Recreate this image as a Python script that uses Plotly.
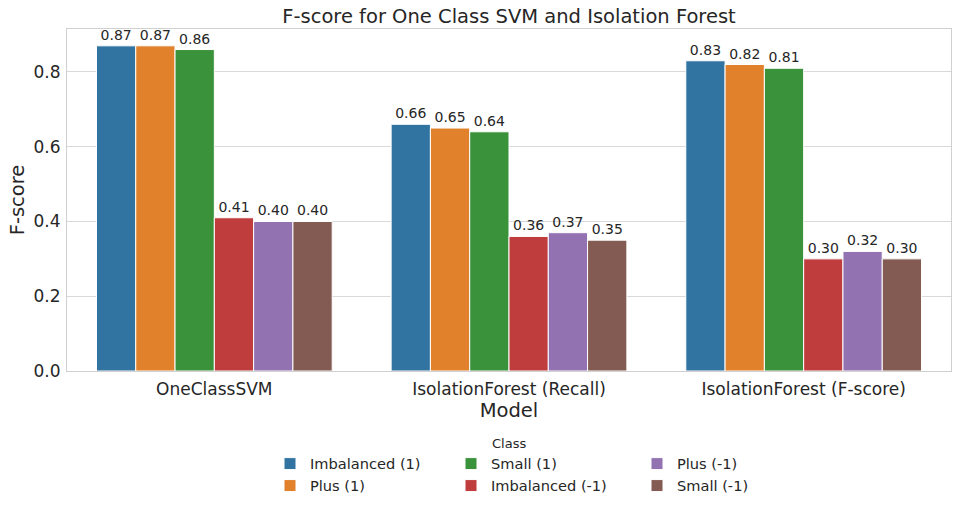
import plotly.graph_objects as go

models = ["OneClassSVM", "IsolationForest (Recall)", "IsolationForest (F-score)"]
classes = ["Imbalanced (1)", "Plus (1)", "Small (1)", "Imbalanced (-1)", "Plus (-1)", "Small (-1)"]
values = {
    "Imbalanced (1)": [0.87, 0.66, 0.83],
    "Plus (1)": [0.87, 0.65, 0.82],
    "Small (1)": [0.86, 0.64, 0.81],
    "Imbalanced (-1)": [0.41, 0.36, 0.30],
    "Plus (-1)": [0.40, 0.37, 0.32],
    "Small (-1)": [0.40, 0.35, 0.30],
}
colors = ["#3274a1", "#e1812c", "#3a923a", "#c03d3e", "#9372b2", "#845b53"]
legend_ids = ["legend", "legend", "legend2", "legend2", "legend3", "legend3"]

FONT = "DejaVu Sans"
TXT = "#262626"

fig = go.Figure()
for c, col, lg in zip(classes, colors, legend_ids):
    fig.add_trace(go.Bar(
        x=models, y=values[c], name=c, legend=lg,
        marker=dict(color=col, line=dict(color="white", width=1)),
        texttemplate="%{y:.2f}", textposition="outside", constraintext="none",
        textfont=dict(size=14, color=TXT, family=FONT),
        cliponaxis=False,
    ))

leg_common = dict(
    orientation="v", yanchor="top", xanchor="left",
    font=dict(size=14.6, color=TXT, family=FONT),
    bgcolor="rgba(0,0,0,0)", tracegroupgap=0,
)
ly = -0.224
PW = 884
fig.update_layout(
    width=959, height=509,
    margin=dict(l=67, r=8, t=29, b=138, autoexpand=False),
    paper_bgcolor="white", plot_bgcolor="white",
    font=dict(family=FONT, color=TXT),
    title=dict(text="F-score for One Class SVM and Isolation Forest",
               x=0.5, xref="paper", xanchor="center",
               y=1 - 16 / 509, yref="container", yanchor="middle",
               font=dict(size=19.5, color=TXT, family=FONT)),
    barmode="group", bargap=0.2, bargroupgap=0,
    legend=dict(x=(270 - 67) / PW, y=ly, **leg_common),
    legend2=dict(x=(451 - 67) / PW, y=ly, **leg_common),
    legend3=dict(x=(637 - 67) / PW, y=ly, **leg_common),
    annotations=[dict(text="Class", x=(509 - 67) / PW, y=-0.211, xref="paper", yref="paper",
                      xanchor="center", yanchor="middle", showarrow=False,
                      font=dict(size=13, color=TXT, family=FONT))],
)
fig.update_xaxes(
    title=dict(text="Model", font=dict(size=19.5, color=TXT), standoff=4),
    tickfont=dict(size=17, color=TXT), showline=True, linecolor="#d0d0d0", mirror=True,
    ticks="", showgrid=False, automargin=False, ticklabelstandoff=3,
)
fig.update_yaxes(
    title=dict(text="F-score", font=dict(size=19.5, color=TXT), standoff=3),
    tickfont=dict(size=17, color=TXT), range=[0, 0.915], tickvals=[0, 0.2, 0.4, 0.6, 0.8],
    tickformat=".1f", showline=True, linecolor="#d0d0d0", mirror=True,
    gridcolor="#d9d9d9", zeroline=False, ticks="", automargin=False, ticklabelstandoff=2,
)
fig.write_html("out.html", config={"displayModeBar": False},
               post_script="document.body.style.margin='0';")
